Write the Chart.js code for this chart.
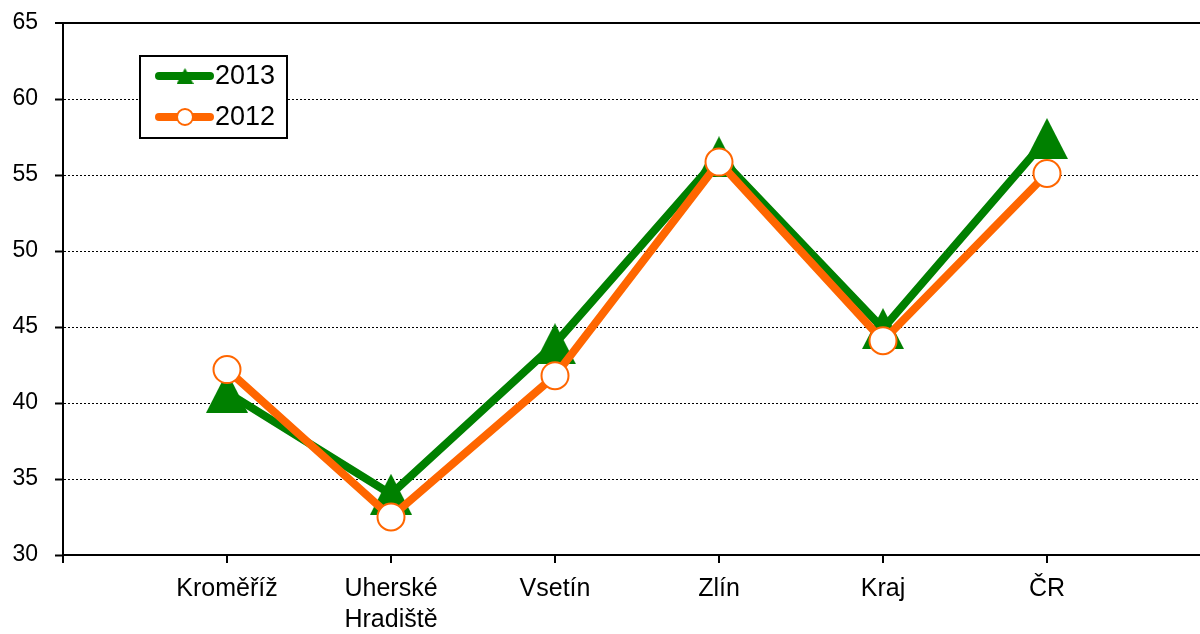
<!DOCTYPE html>
<html>
<head>
<meta charset="utf-8">
<script src="https://cdn.jsdelivr.net/npm/chart.js@4/dist/chart.umd.min.js"></script>
<style>
html,body{margin:0;padding:0;background:#fff;}
#wrap{width:1200px;height:634px;position:relative;}
</style>
</head>
<body>
<div id="wrap"><canvas id="c" width="1200" height="634"></canvas></div>
<script>
const categories = ['Kroměříž', ['Uherské', 'Hradiště'], 'Vsetín', 'Zlín', 'Kraj', 'ČR'];
const series2013 = [40.7, 34.0, 43.9, 56.2, 44.9, 57.4];
const series2012 = [42.2, 32.5, 41.8, 55.85, 44.1, 55.1];
const yTicks = [30, 35, 40, 45, 50, 55, 60, 65];
const seriesNames = ['2013', '2012'];

const GREEN = '#008000';
const ORANGE = '#FF6600';
const FONT = '"Liberation Sans", Arial, sans-serif';

function triCanvas(w, h) {
  const c = document.createElement('canvas');
  c.width = w; c.height = h;
  const g = c.getContext('2d');
  g.fillStyle = GREEN;
  g.beginPath();
  g.moveTo(w / 2, 0);
  g.lineTo(w, h);
  g.lineTo(0, h);
  g.closePath();
  g.fill();
  return c;
}
const bigTri = triCanvas(42, 41);
const smallTri = triCanvas(17, 16);

const legendPlugin = {
  id: 'boxLegend',
  afterDraw(chart) {
    const ctx = chart.ctx;
    ctx.save();
    ctx.fillStyle = '#fff';
    ctx.fillRect(140, 56, 147, 82);
    ctx.strokeStyle = '#000';
    ctx.lineWidth = 2;
    ctx.strokeRect(140, 56, 147, 82);
    const rows = [
      {y: 76, color: GREEN, name: seriesNames[0], tri: true},
      {y: 117, color: ORANGE, name: seriesNames[1], tri: false}
    ];
    rows.forEach(r => {
      ctx.strokeStyle = r.color;
      ctx.lineWidth = 8;
      ctx.lineCap = 'round';
      ctx.beginPath();
      ctx.moveTo(159, r.y);
      ctx.lineTo(210, r.y);
      ctx.stroke();
      if (r.tri) {
        ctx.drawImage(smallTri, 185 - 8.5, r.y - 8);
      } else {
        ctx.fillStyle = '#fff';
        ctx.strokeStyle = ORANGE;
        ctx.lineWidth = 2;
        ctx.beginPath();
        ctx.arc(185, r.y, 8, 0, Math.PI * 2);
        ctx.fill();
        ctx.stroke();
      }
      ctx.fillStyle = '#000';
      ctx.font = '27px ' + FONT;
      ctx.textBaseline = 'middle';
      ctx.textAlign = 'left';
      ctx.fillText(r.name, 215, r.y + 1);
    });
    ctx.restore();
  }
};

const xMax = (1200 - 63) / 164;

new Chart(document.getElementById('c'), {
  type: 'line',
  data: {
    datasets: [
      {
        label: seriesNames[1],
        data: series2012.map((v, i) => ({x: i + 1, y: v})),
        borderColor: ORANGE,
        borderWidth: 8,
        pointStyle: 'circle',
        pointRadius: 13.5,
        pointBorderWidth: 2,
        pointBackgroundColor: '#fff',
        pointBorderColor: ORANGE,
        order: 0
      },
      {
        label: seriesNames[0],
        data: series2013.map((v, i) => ({x: i + 1, y: v})),
        borderColor: GREEN,
        borderWidth: 8,
        pointStyle: bigTri,
        pointRadius: 21,
        order: 1
      }
    ]
  },
  options: {
    responsive: false,
    animation: false,
    events: [],
    layout: {autoPadding: false, padding: {top: 23, right: 0, left: 0, bottom: 0}},
    plugins: {legend: {display: false}, tooltip: {enabled: false}},
    scales: {
      x: {
        type: 'linear',
        min: 0,
        max: xMax,
        afterBuildTicks(scale) {
          scale.ticks = [0, 1, 2, 3, 4, 5, 6].map(v => ({value: v}));
        },
        afterFit(scale) {
          scale.height = 634 - 555;
          scale.paddingLeft = 0; scale.paddingRight = 0;
        },
        ticks: {
          autoSkip: false,
          maxRotation: 0,
          padding: 10,
          color: '#000',
          font: {family: FONT, size: 25, lineHeight: 1.25},
          callback: (v) => (v >= 1 && v <= 6 ? categories[v - 1] : '')
        },
        grid: {drawOnChartArea: false, drawTicks: true, tickLength: 8, color: '#000', lineWidth: 2},
        border: {display: true, color: '#000', width: 2}
      },
      y: {
        min: 30,
        max: 65,
        afterBuildTicks(scale) {
          scale.ticks = yTicks.map(v => ({value: v}));
        },
        afterFit(scale) {
          scale.width = 63;
          scale.paddingTop = 0; scale.paddingBottom = 0;
        },
        ticks: {
          padding: 17,
          color: '#000',
          font: {family: FONT, size: 23},
        },
        grid: {
          drawTicks: true,
          tickLength: 8,
          color: '#000',
          lineWidth: (ctx) => (ctx.tick && ctx.tick.value === 65 ? 2 : 1),
          tickColor: '#000',
          tickWidth: 2
        },
        border: {
          display: true, color: '#000', width: 2,
          dash: (ctx) => (ctx.tick && (ctx.tick.value === 65 || ctx.tick.value === 30) ? [] : [2, 2])
        }
      }
    }
  },
  plugins: [legendPlugin]
});
</script>
</body>
</html>
